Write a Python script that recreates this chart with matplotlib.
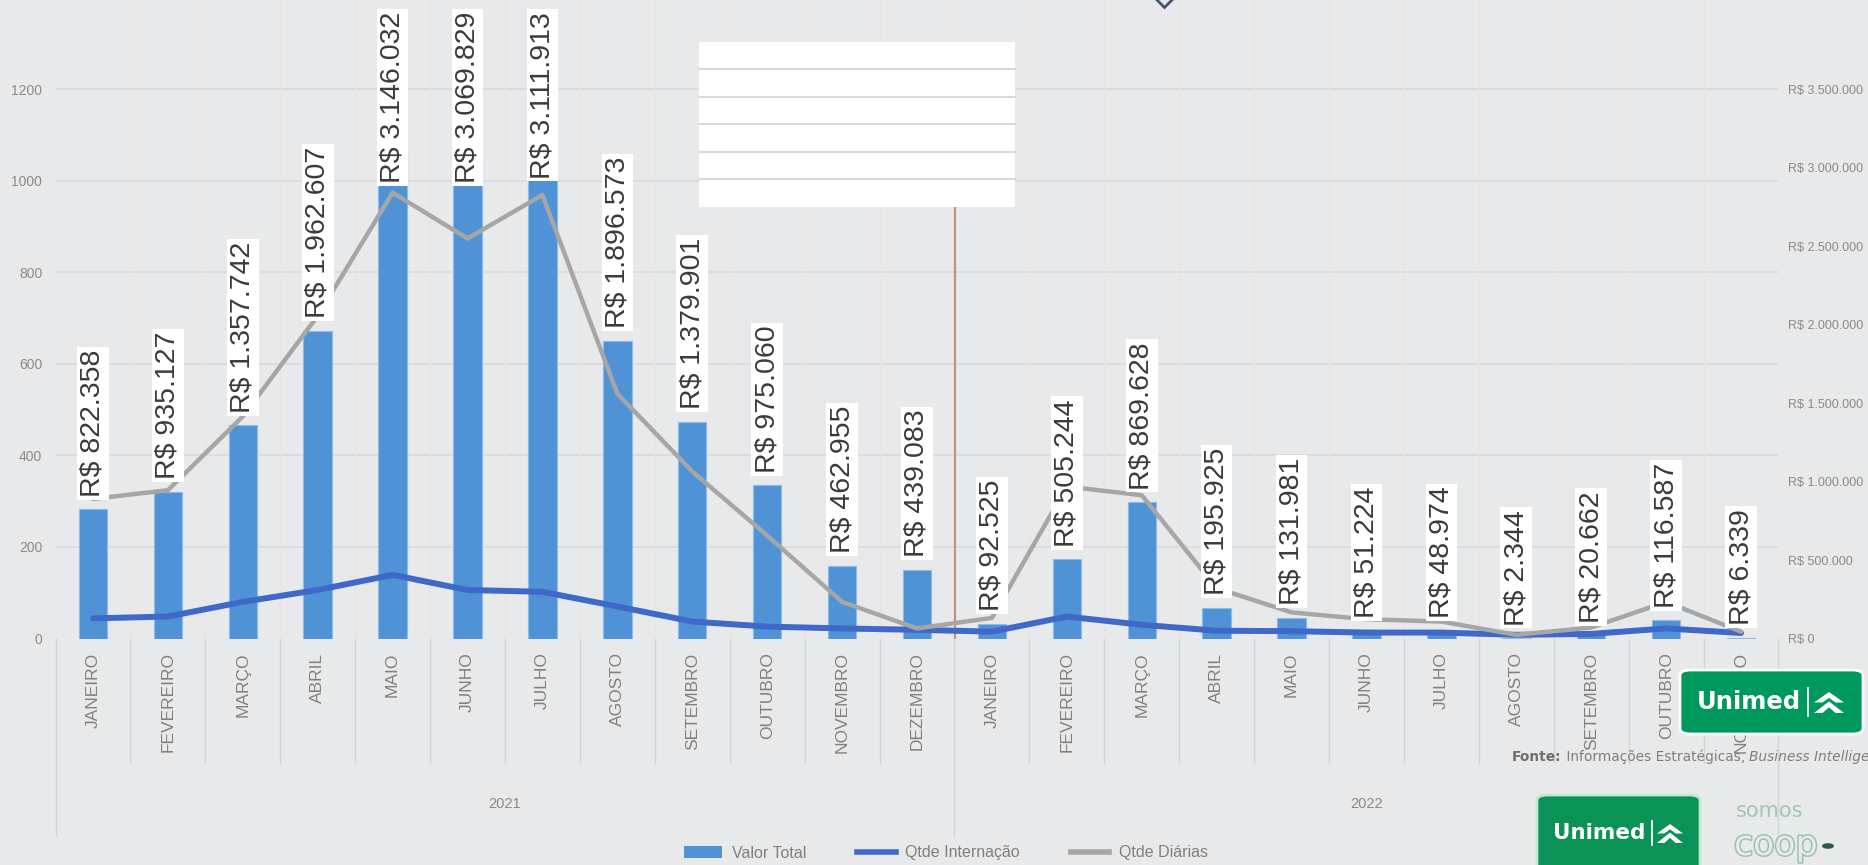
import matplotlib
matplotlib.use("Agg")
import matplotlib.pyplot as plt
from matplotlib.patches import Rectangle, FancyBboxPatch, Polygon, Patch, Circle
from matplotlib.lines import Line2D
import matplotlib.transforms as mtransforms
import matplotlib.patheffects as pe

plt.rcParams['font.family'] = ['Liberation Sans', 'DejaVu Sans']

# ---------------- data ----------------
meses = ["JANEIRO", "FEVEREIRO", "MARÇO", "ABRIL", "MAIO", "JUNHO", "JULHO", "AGOSTO",
         "SETEMBRO", "OUTUBRO", "NOVEMBRO", "DEZEMBRO",
         "JANEIRO", "FEVEREIRO", "MARÇO", "ABRIL", "MAIO", "JUNHO", "JULHO", "AGOSTO",
         "SETEMBRO", "OUTUBRO", "NOVEMBRO"]
anos = ["2021", "2022"]
meses_por_ano = [12, 11]
valor_total = [822358, 935127, 1357742, 1962607, 3146032, 3069829, 3111913, 1896573,
               1379901, 975060, 462955, 439083,
               92525, 505244, 869628, 195925, 131981, 51224, 48974, 2344,
               20662, 116587, 6339]
qtde_internacao = [44, 48, 80, 106, 139, 106, 102, 70, 37, 26, 22, 19,
                   15, 48, 30, 17, 16, 13, 13, 8, 10, 22, 12]
qtde_diarias = [305, 324, 485, 705, 974, 874, 969, 535, 365, 225, 80, 22,
                45, 332, 313, 110, 57, 42, 37, 8, 24, 80, 15]
left_ticks = [0, 200, 400, 600, 800, 1000, 1200]
right_ticks = [0, 500000, 1000000, 1500000, 2000000, 2500000, 3000000, 3500000]
legend_labels = ["Valor Total", "Qtde Internação", "Qtde Diárias"]
fonte_parts = ["Fonte:", " Informações Estratégicas, ", "Business Intelligence"]

# ---------------- style ----------------
W, H = 1868, 865
BG = '#E8E9EB'
BAR = '#4F93D6'
BLUE = '#4068C8'
GRAY = '#A6A6A6'
GRID = '#DADBDE'
TICK = '#8A8A8A'
GREEN = '#00995D'

def fx(px):
    return px / W

def fy(py):
    return 1 - py / H

fig = plt.figure(figsize=(W / 100, H / 100), dpi=100, facecolor=BG)

ax_l, ax_r, ax_t, ax_b = 55.5, 1778.5, 0.0, 638.5
ax = fig.add_axes([fx(ax_l), fy(ax_b), (ax_r - ax_l) / W, (ax_b - ax_t) / H])
ax.set_facecolor(BG)
ax2 = ax.twinx()

ratio = right_ticks[-1] / left_ticks[-1]
left_top = 1395
ax2.set_ylim(0, left_top)
ax.set_ylim(0, left_top * ratio)
n = len(meses)
ax.set_xlim(-0.5, n - 0.5)

for a in (ax, ax2):
    for s in a.spines.values():
        s.set_visible(False)

# gridlines (left scale) behind bars
for v in left_ticks[1:]:
    ax.axhline(v * ratio, color=GRID, lw=1.3, zorder=0.5)
# very faint category boundaries inside plot
for k in range(1, n):
    ax.axvline(k - 0.5, color='#E9E4E2', lw=0.9, zorder=0.6)

x = list(range(n))
ax.bar(x, valor_total, width=0.38, color=BAR, edgecolor='#8CBCE9', linewidth=0.8, zorder=2)

ax2.plot(x, qtde_internacao, color=BLUE, lw=4.3, solid_joinstyle='round',
         solid_capstyle='round', zorder=3)
ax2.plot(x, qtde_diarias, color=GRAY, lw=3.2, solid_joinstyle='round',
         solid_capstyle='round', zorder=4)

# orange vertical marker line from the table to the axis
ax2.axvline(11.51, ymin=0, ymax=(ax_b - 206.7) / (ax_b - ax_t), color='#BE9578', lw=1.6, zorder=2.5)

# ticks
ax.yaxis.set_ticks_position('right')
ax.set_yticks(right_ticks)
ax.set_yticklabels(['R$ 0' if v == 0 else 'R$ ' + f'{v:,}'.replace(',', '.') for v in right_ticks],
                   fontsize=9, color=TICK)
ax.tick_params(axis='y', length=0, pad=6.5)

ax2.yaxis.set_ticks_position('left')
ax2.set_yticks(left_ticks)
ax2.set_yticklabels([str(v) for v in left_ticks], fontsize=10, color=TICK)
ax2.tick_params(axis='y', length=0, pad=9.5)

ax.set_xticks(x)
ax.set_xticklabels(meses, rotation=90, fontsize=12.5, color='#808080')
ax.tick_params(axis='x', length=0, pad=10)
ax2.tick_params(axis='x', length=0)

# category separators below axis
blend = mtransforms.blended_transform_factory(ax.transData, ax.transAxes)
year_bounds = [-0.5]
for m in meses_por_ano:
    year_bounds.append(year_bounds[-1] + m)
for k in range(n + 1):
    b = k - 0.5
    y1 = -0.31 if b in year_bounds else -0.195
    ax.add_line(Line2D([b, b], [0, y1], transform=blend, color='#D3D4D6', lw=1.0, clip_on=False))

for i, ano in enumerate(anos):
    c = (year_bounds[i] + year_bounds[i + 1]) / 2
    ax.text(c, -0.259, ano, transform=blend, ha='center', va='center', fontsize=10.5, color=TICK)

# data labels
fig.canvas.draw()
renderer = fig.canvas.get_renderer()
axes_top = ax.get_window_extent(renderer).y1
LFS = 20.5
box = dict(boxstyle='square,pad=0.1', fc='white', ec='none')
for i, v in enumerate(valor_total):
    s = 'R$ ' + f'{v:,}'.replace(',', '.')
    t = ax2.annotate(s, xy=(i, v), xycoords=ax.transData, xytext=(0, 9),
                     textcoords='offset points', rotation=90, ha='center', va='bottom',
                     fontsize=LFS, color='#3A3A3A', bbox=box, zorder=6, annotation_clip=False)
    bb = t.get_window_extent(renderer)
    if bb.y1 > axes_top - 10:
        t.remove()
        ax2.annotate(s, xy=(i, 1), xycoords=(ax.transData, ax.transAxes), xytext=(0, -8.5),
                     textcoords='offset points', rotation=90, ha='center', va='top',
                     fontsize=LFS, color='#3A3A3A', bbox=box, zorder=6, annotation_clip=False)

# white table block
tl, tr, tt, tb = 698.6, 1014.6, 41.7, 206.7
fig.add_artist(Rectangle((fx(tl), fy(tb)), (tr - tl) / W, (tb - tt) / H,
                         transform=fig.transFigure, fc='white', ec='none', zorder=10))
nrows = 6
for r in range(1, nrows):
    yy = tt + r * (tb - tt) / nrows
    fig.add_artist(Line2D([fx(tl), fx(tr)], [fy(yy), fy(yy)], transform=fig.transFigure,
                          color='#D9D9D9', lw=1.5, zorder=11))

# cut-off top legend marker
fig.add_artist(Line2D([fx(1164)], [fy(-4)], transform=fig.transFigure, marker='D', markersize=11,
                      mfc=BG, mec='#44546A', mew=2, zorder=12))

# bottom legend
handles = [Patch(facecolor=BAR, edgecolor='none'),
           Line2D([0], [0], color=BLUE, lw=4),
           Line2D([0], [0], color=GRAY, lw=4)]
fig.legend(handles, legend_labels, loc='center', bbox_to_anchor=(fx(946), fy(853)), ncol=3,
           frameon=False, fontsize=11.5, handlelength=2.4, handletextpad=0.6,
           columnspacing=3.2, labelcolor='#7F7F7F')

# logos
def unimed_logo(x0, y0, x1, y1, fs, fc, ec, text_x, text_yc, sep_x, sym):
    fig.add_artist(FancyBboxPatch((fx(x0), fy(y1)), (x1 - x0) / W, (y1 - y0) / H,
                                  boxstyle='round,pad=0,rounding_size=0.006',
                                  transform=fig.transFigure, fc=fc, ec=ec, lw=2, zorder=20))
    fig.text(fx(text_x), fy(text_yc), 'Unimed', fontsize=fs, fontweight='bold', color='white',
             family='DejaVu Sans', ha='left', va='center', zorder=21)
    h = sym[3] - sym[1]
    fig.add_artist(Line2D([fx(sep_x), fx(sep_x)], [fy(text_yc - h * 0.65), fy(text_yc + h * 0.65)],
                          transform=fig.transFigure, color='white', lw=1.3, zorder=21))
    sx0, sy0, sx1, sy1 = sym
    w = sx1 - sx0
    def P(u, v):
        return (fx(sx0 + u * w), fy(sy1 - v * h))
    top = [P(0.5, 1.0), P(1.0, 0.5), P(0.72, 0.5), P(0.5, 0.72), P(0.28, 0.5), P(0.0, 0.5)]
    bot = [P(0.5, 0.55), P(1.0, 0.0), P(0.72, 0.0), P(0.5, 0.27), P(0.28, 0.0), P(0.0, 0.0)]
    for poly in (top, bot):
        fig.add_artist(Polygon(poly, closed=True, transform=fig.transFigure, fc='white',
                               ec='none', zorder=21))

unimed_logo(1680, 670, 1863, 734, 17.5, GREEN, 'white', 1697, 702, 1808, (1814, 692, 1844, 713))
unimed_logo(1537, 795, 1700, 880, 15.5, '#0A9257', '#BFE8D4', 1553, 833, 1652, (1657, 824, 1683, 843))

fig.text(fx(1736), fy(811), 'somos', fontsize=15, color='#A3C3B9', family='DejaVu Sans',
         ha='left', va='center', zorder=21)
fig.text(fx(1734), fy(845), 'coop', fontsize=25, color=BG, family='DejaVu Sans',
         ha='left', va='center', zorder=21,
         path_effects=[pe.withStroke(linewidth=2.2, foreground='#9CC0B4')])
fig.add_artist(Circle((fx(1828), fy(846)), 6 / W, transform=fig.transFigure,
                      fc='#2D5A47', ec='none', zorder=21))

# source text
fig.canvas.draw()
renderer = fig.canvas.get_renderer()
xpos = 1512
styles = [dict(fontweight='bold', color='#6E6E6E'), dict(color='#7F7F7F'),
          dict(color='#7F7F7F', style='italic')]
for part, st in zip(fonte_parts, styles):
    t = fig.text(fx(xpos), fy(757), part, fontsize=9.9, family='DejaVu Sans', ha='left',
                 va='center', zorder=22, **st)
    bb = t.get_window_extent(renderer)
    xpos += bb.width

fig.savefig('out.png', dpi=100, facecolor=BG)
